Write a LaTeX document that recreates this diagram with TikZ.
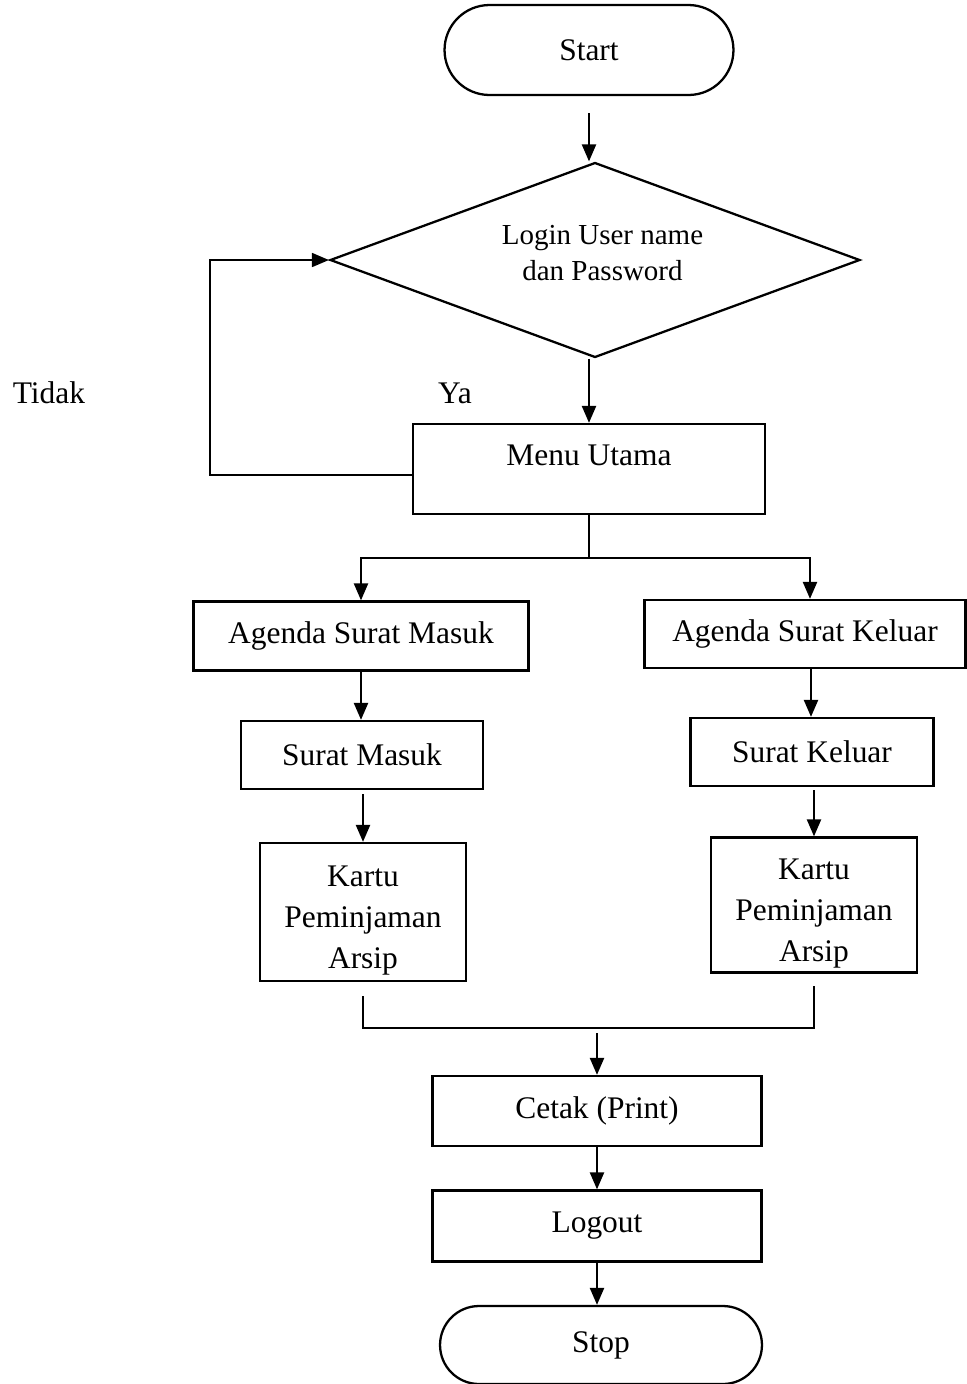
\documentclass[tikz,border=0pt]{standalone}
\usepackage{fontspec}
\setmainfont{Liberation Serif}
\usetikzlibrary{shapes.geometric,arrows.meta}
\tikzset{
    arr/.style={-{Triangle[length=0.34cm,width=0.28cm]}},
    terminal/.style={draw,rectangle,rounded corners=#1,inner sep=0pt},
    proc/.style={draw,rectangle,inner sep=0pt,align=center},
    decision/.style={draw,diamond,aspect=2.72,inner sep=0pt,align=center},
}
\newcommand\BigText{\fontsize{17.9}{23.3}\selectfont}
\newcommand\SmallText{\fontsize{16.5}{20.4}\selectfont}
\newcommand\TopGap{\rule{0pt}{0.74cm}}
\newcommand\LowGap[1]{\rule[-#1]{0pt}{#1}}

\begin{document}
\begin{tikzpicture}[x=0.02cm,y=-0.02cm,line width=1.3pt,font=\BigText]
    \useasboundingbox (0,0) rectangle (967,1384);
    % start and login
    \node[terminal=0.9cm,minimum width=5.78cm,minimum height=1.8cm] (start) at (589,50) {Start};
    \node[decision,minimum width=10.6cm,minimum height=3.9cm,font=\SmallText] (login) at (595,260) {\hspace{0.3cm}Login User name\\\hspace{0.3cm}dan Password\LowGap{0.3cm}};
    \node[proc,minimum width=7.04cm,minimum height=1.8cm] (menu) at (589,469) {Menu Utama\LowGap{0.56cm}};
    \draw[arr,shorten <=0.34cm] (start.south) -- (start.south |- login.north);
    \draw[arr] (menu.north |- login.south) -- (menu.north);
    \draw[line width=1pt,arr] ([yshift=-0.12cm]menu.west) -- ++(-202,0) |- (login.west);
    \node (tidak) at (49,393) {Tidak};
    \node (ya) at (455,393) {Ya};
    % two branches
    \node[proc,minimum width=6.7cm,minimum height=1.38cm] (agmasuk) at (361,636) {Agenda Surat Masuk};
    \node[proc,minimum width=6.42cm,minimum height=1.36cm] (agkeluar) at (805,634) {Agenda Surat Keluar};
    \node[proc,minimum width=4.84cm,minimum height=1.36cm] (smasuk) at (362,755) {Surat Masuk};
    \node[proc,minimum width=4.86cm,minimum height=1.36cm] (skeluar) at (812,752) {Surat Keluar};
    \node[proc,minimum width=4.12cm,minimum height=2.76cm] (kmasuk) at (363,912) {\TopGap Kartu\\Peminjaman\\Arsip};
    \node[proc,minimum width=4.12cm,minimum height=2.7cm] (kkeluar) at (814,905) {\TopGap Kartu\\Peminjaman\\Arsip};
    \draw[line width=1pt] (menu.south) -- ++(0,43) coordinate (split);
    \draw[arr] (split) -| (agmasuk.north);
    \draw[arr] (split) -| ([xshift=0.1cm]agkeluar.north);
    \draw[arr] (agmasuk.south) -- (agmasuk.south |- smasuk.north);
    \draw[arr] ([xshift=0.12cm]agkeluar.south) -- ([xshift=0.12cm]agkeluar.south |- skeluar.north);
    \draw[arr,shorten <=0.08cm] (kmasuk.north |- smasuk.south) -- (kmasuk.north);
    \draw[arr,shorten <=0.06cm] (kkeluar.north |- skeluar.south) -- (kkeluar.north);
    \draw[line width=1pt] ([yshift=-0.28cm]kmasuk.south) -- ++(0,32) coordinate (joinl) -| ([yshift=-0.24cm]kkeluar.south);
    % end
    \node[proc,minimum width=6.58cm,minimum height=1.4cm] (cetak) at (597,1111) {Cetak (Print)};
    \node[proc,minimum width=6.58cm,minimum height=1.42cm] (logout) at (597,1226) {Logout};
    \node[terminal=0.78cm,minimum width=6.44cm,minimum height=1.56cm] (stop) at (601,1345) {Stop};
    \coordinate (joinout) at (597,1033);
    \draw[arr] (joinout) -- (cetak);
    \draw[arr] (cetak) -- (logout);
    \draw[arr] (logout) -- (logout |- stop.north);
\end{tikzpicture}
\end{document}
